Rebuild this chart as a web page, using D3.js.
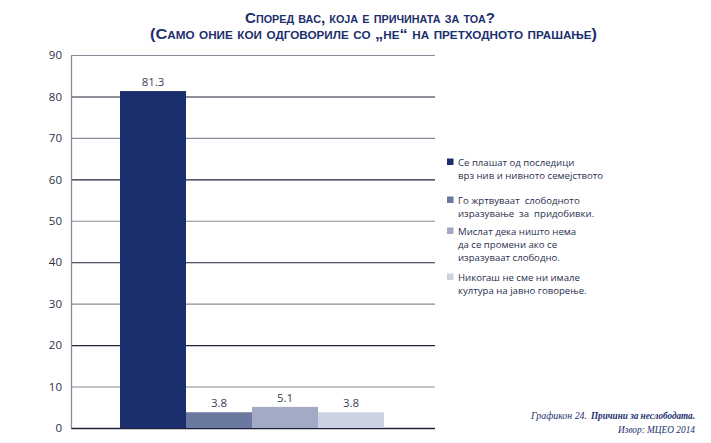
<!DOCTYPE html>
<html><head><meta charset="utf-8">
<script src="https://cdn.jsdelivr.net/npm/d3@7"></script>
<style>body{margin:0;background:#fff;} svg{display:block;}</style>
</head><body>
<svg id="c" width="711" height="443"></svg>
<script>
const categories = ["Се плашат од последици врз нив и нивното семејството","Го жртвуваат слободното изразување за придобивки.","Мислат дека ништо нема да се промени ако се изразуваат слободно.","Никогаш не сме ни имале култура на јавно говорење."];
const values = [81.3, 3.8, 5.1, 3.8];
const valueLabels = ["81.3","3.8","5.1","3.8"];
const legendLines = [["Се плашат од последици","врз нив и нивното семејството"],["Го жртвуваат  слободното","изразување  за  придобивки."],["Мислат дека ништо нема","да се промени ако се","изразуваат слободно."],["Никогаш не сме ни имале","култура на јавно говорење."]];
const yTicks = [0,10,20,30,40,50,60,70,80,90];
const colors = ["#1b2f6e","#6b789f","#a2aac6","#cdd2e2"];

const svg = d3.select("#c");
const x0 = 71, x1 = 435;
const y = d3.scaleLinear().domain([0,90]).range([428,55]);
const x = d3.scaleBand().domain(d3.range(4)).range([120,384]).padding(0);

// gridlines
svg.append("g").selectAll("line").data(yTicks).join("line")
  .attr("x1", x0).attr("x2", x1)
  .attr("y1", d=>y(d)+0.5).attr("y2", d=>y(d)+0.5)
  .attr("stroke", d=> (d/10)%2===0 ? "#1e2438" : "#858b99")
  .attr("stroke-width", d=> d===0 ? 1.3 : 1.1);

// axis
const ax = svg.append("g").attr("transform",`translate(${x0},0)`)
  .call(d3.axisLeft(y).tickValues(yTicks).tickSize(0).tickPadding(9));
ax.select(".domain").attr("stroke","#858b99").attr("stroke-width",1.3);
ax.selectAll("text").attr("font-family","Open Sans, sans-serif").attr("font-size","11.5px").attr("fill","#2a2f45");

// bars
svg.append("g").selectAll("rect").data(values).join("rect")
  .attr("x",(d,i)=>x(i)).attr("width",x.bandwidth())
  .attr("y",d=>y(d)).attr("height",d=>y(0)-y(d))
  .attr("fill",(d,i)=>colors[i]);

svg.append("g").selectAll("text").data(values).join("text")
  .attr("x",(d,i)=>x(i)+x.bandwidth()/2).attr("y",d=>y(d)-5)
  .attr("text-anchor","middle").attr("font-family","Open Sans, sans-serif")
  .attr("font-size","11.5px").attr("fill","#3a3f55")
  .text((d,i)=>valueLabels[i]);

// legend
const legY = [162,200,231,277];
const lg = svg.append("g");
legendLines.forEach((lines,i)=>{
  lg.append("rect").attr("x",447).attr("y",legY[i]-3.5).attr("width",6.5).attr("height",6.5).attr("fill",colors[i]);
  lines.forEach((t,j)=>{
    lg.append("text").attr("x",458).attr("y",legY[i]+j*13+3.5)
      .attr("font-family","Open Sans, sans-serif").attr("font-size","9.6px").attr("fill","#2a3050")
      .style("white-space","pre").text(t);
  });
});

// title
const tt = svg.append("g").attr("font-family","Liberation Sans, Arial, sans-serif").attr("font-weight","bold")
  .attr("fill","#1b2f6e").style("font-variant","small-caps");
tt.append("text").attr("x",245).attr("y",23).attr("font-size","14px")
  .attr("textLength",250).attr("lengthAdjust","spacingAndGlyphs").text("Според вас, која е причината за тоа?");
tt.append("text").attr("x",150).attr("y",39).attr("font-size","14px")
  .attr("textLength",447).attr("lengthAdjust","spacingAndGlyphs").text("(Само оние кои одговориле со „не“ на претходното прашање)");

// caption
const cp = svg.append("g").attr("font-family","Liberation Serif, serif").attr("font-style","italic")
  .attr("fill","#1b2f6e").attr("font-size","10.5px");
cp.append("text").attr("x",531).attr("y",419).attr("textLength",56).attr("lengthAdjust","spacingAndGlyphs").text("Графикон 24.");
cp.append("text").attr("x",591).attr("y",419).attr("font-weight","bold").attr("textLength",104).attr("lengthAdjust","spacingAndGlyphs").text("Причини за неслободата.");
cp.append("text").attr("x",618).attr("y",433).attr("textLength",77).attr("lengthAdjust","spacingAndGlyphs").text("Извор: МЦЕО 2014");
</script>
</body></html>
